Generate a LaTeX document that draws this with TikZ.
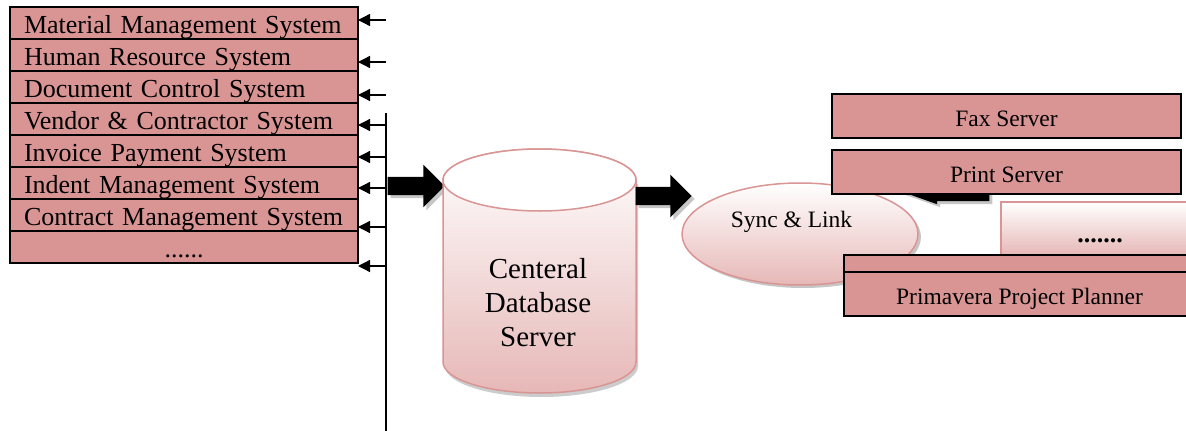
\documentclass[tikz,border=0pt]{standalone}
\usepackage{fontspec}
\setmainfont{Liberation Serif}
\usetikzlibrary{positioning,shapes.geometric,shapes.arrows,shadows,arrows.meta}

\definecolor{rowpink}{RGB}{217,149,148}
\definecolor{lightpink}{RGB}{230,184,183}

\tikzset{
  sysrow/.style={draw, line width=1.2pt, fill=rowpink, minimum width=348, minimum height=32,
    inner sep=0, outer sep=0, text width=320, align=left, text height=20, text depth=0,
    font=\fontsize{26}{28}\selectfont},
  srvbox/.style={draw, line width=1.2pt, fill=rowpink, minimum height=44, inner sep=0,
    outer sep=0, text height=20, text depth=0, font=\fontsize{23.5}{26}\selectfont},
  busarrow/.style={line width=1.3pt, -{Triangle[length=12pt,width=12pt]}},
  bigarrow/.style={single arrow, fill=black, draw=none, minimum width=42,
    single arrow head extend=12, inner xsep=0, inner ysep=9, outer sep=0,
    drop shadow={shadow xshift=3pt, shadow yshift=-3pt, fill=gray!45, opacity=1}},
  pinkshade/.style={top color=white, bottom color=lightpink, draw=rowpink, line width=1.5pt}
}

\begin{document}
\begin{tikzpicture}[x=1pt, y=-1pt]
    \useasboundingbox (0,0) rectangle (1186,431);
    \clip (0,0) rectangle (1186,431);

    % systems on the left
    \node[sysrow] (mms) at (184,23) {Material Management System};
    \node[sysrow, below=0pt of mms] (hrs) {Human Resource System};
    \node[sysrow, below=0pt of hrs] (dcs) {Document Control System};
    \node[sysrow, below=0pt of dcs] (vcs) {Vendor \& Contractor System};
    \node[sysrow, below=0pt of vcs] (ips) {Invoice Payment System};
    \node[sysrow, below=0pt of ips] (ims) {Indent Management System};
    \node[sysrow, below=0pt of ims] (cms) {Contract Management System};
    \node[sysrow, below=0pt of cms, align=center] (more) {......};

    \coordinate (bustop) at (386,113);
    \coordinate (busend) at (386,431);
    \draw[line width=1.3pt] (bustop) -- (busend);

    \coordinate (b1) at (386,20);
    \coordinate (b2) at (386,62);
    \coordinate (b3) at (386,95);
    \coordinate (b4) at (386,125);
    \coordinate (b5) at (386,157);
    \coordinate (b6) at (386,188);
    \coordinate (b7) at (386,227);
    \coordinate (b8) at (386,266);
    \draw[busarrow] (b1) -- (b1 -| mms.east);
    \draw[busarrow] (b2) -- (b2 -| hrs.east);
    \draw[busarrow] (b3) -- (b3 -| dcs.east);
    \draw[busarrow] (b4) -- (b4 -| vcs.east);
    \draw[busarrow] (b5) -- (b5 -| ips.east);
    \draw[busarrow] (b6) -- (b6 -| ims.east);
    \draw[busarrow] (b7) -- (b7 -| cms.east);
    \draw[busarrow] (b8) -- (b8 -| more.east);

    \node[bigarrow, minimum height=57] (toserver) at (411.5,186) {};

    % database cylinder
    \fill[gray!40, xshift=2pt, yshift=-4pt] (443,180) -- (443,362)
        arc[start angle=180, end angle=0, x radius=96.5, y radius=31] -- (636,180) -- cycle;
    \shade[pinkshade] (443,180) -- (443,362)
        arc[start angle=180, end angle=0, x radius=96.5, y radius=31] -- (636,180)
        arc[start angle=0, end angle=-180, x radius=96.5, y radius=31] -- cycle;
    \draw[rowpink, line width=1.5pt, fill=white] (539.5,180) ellipse [x radius=96.5, y radius=31];
    \node[align=center, font=\fontsize{29}{34}\selectfont] (db) at (538,303) {Centeral\\Database\\Server};

    \node[bigarrow, minimum height=56] (tosync) at (659,196) {};

    % sync and the servers
    \node[ellipse, pinkshade, minimum width=236, minimum height=102,
        drop shadow={shadow xshift=3pt, shadow yshift=-3pt, fill=gray!45, opacity=1}] (sync) at (800,234) {};
    \node[anchor=base, font=\fontsize{23.5}{26}\selectfont] (synclabel) at (791.5,227) {Sync \& Link};

    \node[bigarrow, minimum height=98, minimum width=32, inner ysep=13, single arrow head extend=3,
        single arrow tip angle=39, shape border rotate=180] (fromdots) at (959,188) {};

    \node[pinkshade, rectangle, minimum width=194, minimum height=53, inner sep=0] (dotsbox) at (1098,228.5) {};
    \node[anchor=base, font=\fontsize{26}{28}\selectfont\bfseries] (dotslabel) at (1100,242) {.......};

    \node[srvbox, minimum width=351, minimum height=45] (hidden) at (1019.5,277.5) {};
    \node[srvbox, minimum width=351] (p3) at (1019.5,294) {Primavera Project Planner};
    \node[srvbox, minimum width=349] (fax) at (1006.5,116) {Fax Server};
    \node[srvbox, minimum width=349] (print) at (1006.5,172) {Print Server};
\end{tikzpicture}
\end{document}
